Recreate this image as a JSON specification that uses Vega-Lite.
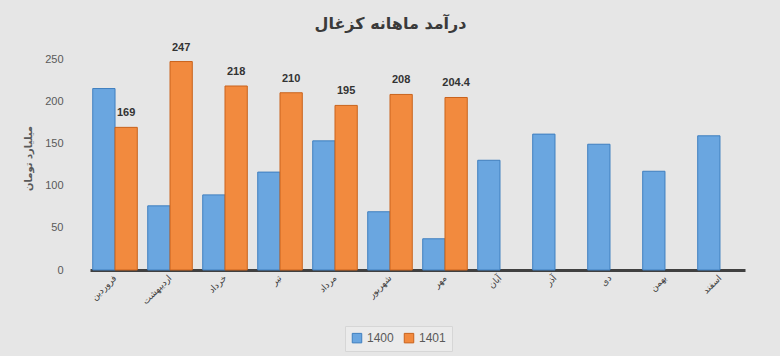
{
  "$schema": "https://vega.github.io/schema/vega-lite/v6.json",
  "width": 655,
  "height": 211,
  "autosize": {"type": "none"},
  "padding": {"left": 90, "top": 59, "right": 35, "bottom": 86},
  "background": "#e6e6e6",
  "title": {
    "text": "درآمد ماهانه کزغال",
    "font": "DejaVu Sans",
    "fontSize": 16,
    "fontWeight": "bold",
    "color": "#3a3a3a",
    "anchor": "middle",
    "dx": -27,
    "offset": 10
  },
  "data": {
    "values": [
      {"month": "فروردین", "year": "1400", "value": 215},
      {"month": "اردیبهشت", "year": "1400", "value": 76},
      {"month": "خرداد", "year": "1400", "value": 89},
      {"month": "تیر", "year": "1400", "value": 116},
      {"month": "مرداد", "year": "1400", "value": 153},
      {"month": "شهریور", "year": "1400", "value": 69},
      {"month": "مهر", "year": "1400", "value": 37},
      {"month": "آبان", "year": "1400", "value": 130},
      {"month": "آذر", "year": "1400", "value": 161},
      {"month": "دی", "year": "1400", "value": 149},
      {"month": "بهمن", "year": "1400", "value": 117},
      {"month": "اسفند", "year": "1400", "value": 159},
      {"month": "فروردین", "year": "1401", "value": 169},
      {"month": "اردیبهشت", "year": "1401", "value": 247},
      {"month": "خرداد", "year": "1401", "value": 218},
      {"month": "تیر", "year": "1401", "value": 210},
      {"month": "مرداد", "year": "1401", "value": 195},
      {"month": "شهریور", "year": "1401", "value": 208},
      {"month": "مهر", "year": "1401", "value": 204.4}
    ]
  },
  "encoding": {
    "x": {
      "field": "month",
      "type": "nominal",
      "sort": ["فروردین", "اردیبهشت", "خرداد", "تیر", "مرداد", "شهریور", "مهر", "آبان", "آذر", "دی", "بهمن", "اسفند"],
      "scale": {"paddingInner": 0.19, "paddingOuter": 0.05},
      "axis": {
        "title": null,
        "labelAngle": -45,
        "labelAlign": "right",
        "labelBaseline": "middle",
        "labelFont": "DejaVu Sans",
        "labelFontSize": 9,
        "labelColor": "#404040",
        "labelPadding": 6,
        "ticks": false,
        "domainColor": "#404040",
        "domainWidth": 3
      }
    },
    "xOffset": {"field": "year", "type": "nominal", "scale": {"domain": ["1400", "1401"], "padding": 0}},
    "y": {
      "field": "value",
      "type": "quantitative",
      "scale": {"domain": [0, 250]},
      "axis": {
        "title": "میلیارد تومان",
        "titleFont": "DejaVu Sans",
        "titleFontSize": 10,
        "titleFontWeight": "bold",
        "titleColor": "#595959",
        "titleX": -57,
        "titleY": 99,
        "titleAngle": -90,
        "values": [0, 50, 100, 150, 200, 250],
        "labelFont": "Liberation Sans",
        "labelFontSize": 11,
        "labelColor": "#595959",
        "labelPadding": 27,
        "ticks": false,
        "domain": false,
        "grid": false
      }
    }
  },
  "layer": [
    {
      "mark": {"type": "bar", "strokeWidth": 1},
      "encoding": {
        "color": {
          "field": "year",
          "type": "nominal",
          "scale": {"domain": ["1400", "1401"], "range": ["#6aa6e0", "#f28a3e"]},
          "legend": {
            "title": null,
            "orient": "none",
            "legendX": 255,
            "legendY": 267,
            "direction": "horizontal",
            "symbolType": "square",
            "symbolSize": 90,
            "symbolStrokeWidth": 1,
            "labelFont": "Liberation Sans",
            "labelFontSize": 12,
            "labelColor": "#595959",
            "columnPadding": 8,
            "padding": 6,
            "fillColor": "#ebebeb",
            "strokeColor": "#d6d6d6"
          }
        },
        "stroke": {
          "field": "year",
          "type": "nominal",
          "scale": {"domain": ["1400", "1401"], "range": ["#3f7fbf", "#c9631c"]},
          "legend": null
        }
      }
    },
    {
      "transform": [{"filter": "datum.year == '1401'"}],
      "mark": {"type": "text", "dy": -9, "fontWeight": "bold", "fontSize": 11, "font": "Liberation Sans", "color": "#333333", "baseline": "bottom"},
      "encoding": {
        "text": {"field": "value", "type": "quantitative"}
      }
    }
  ],
  "config": {
    "view": {"stroke": null}
  }
}
